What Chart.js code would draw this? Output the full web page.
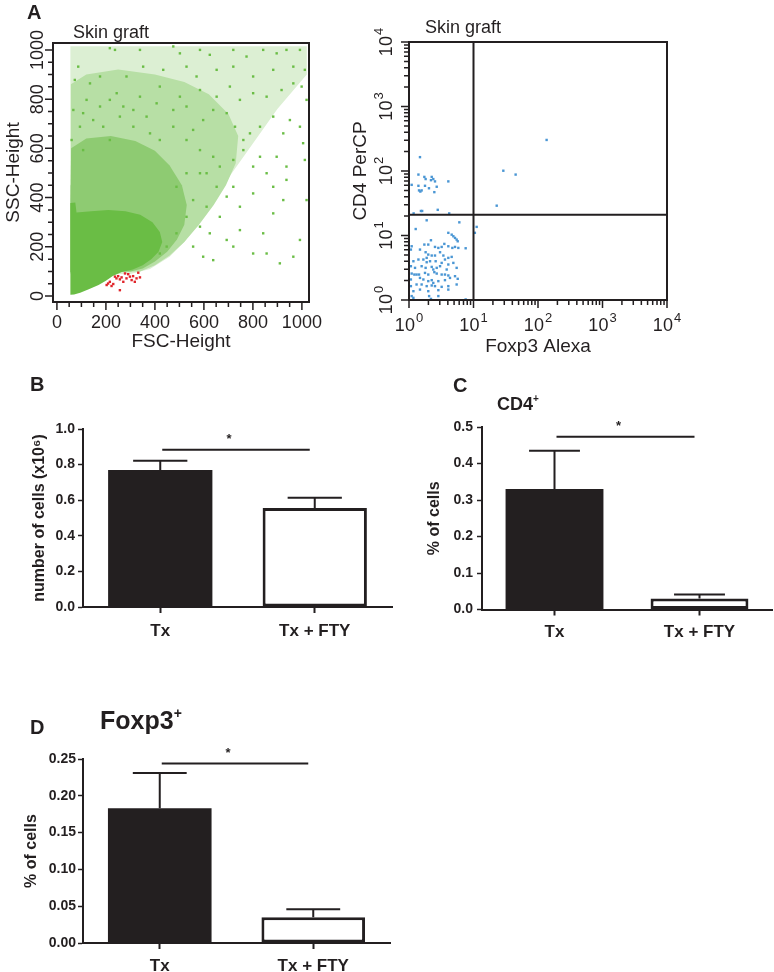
<!DOCTYPE html>
<html lang="en">
<head>
<meta charset="UTF-8" />
<title>Skin graft - Tx vs Tx + FTY</title>
<script src="https://cdn.jsdelivr.net/npm/chart.js@4.4.1/dist/chart.umd.min.js"></script>
<style>
    body { margin: 0; background: #fff; }
    #figure { position: relative; width: 774px; height: 972px; overflow: hidden;
              font-family: "Liberation Sans", Arial, sans-serif; color: #231f20; }
    #figure canvas { position: absolute; }
    .tag { position: absolute; line-height: 1; white-space: nowrap; }
    .letter { font-size: 20px; font-weight: bold; }
    .flow { font-size: 18px; }
    .sup { position: relative; }
</style>
</head>
<body>
<div id="figure">
    <canvas id="fscSsc" width="340" height="360" style="left:0;top:0"></canvas>
    <canvas id="cd4Foxp3" width="434" height="360" style="left:340px;top:0"></canvas>
    <canvas id="cellCount" width="400" height="300" style="left:0;top:360px"></canvas>
    <canvas id="cd4Cells" width="394" height="300" style="left:380px;top:360px"></canvas>
    <canvas id="foxp3Cells" width="400" height="272" style="left:0;top:700px"></canvas>

    <div class="tag letter" style="left:27px;top:2px">A</div>
    <div class="tag flow" style="left:73px;top:23px">Skin graft</div>
    <div class="tag flow" style="left:425px;top:18px">Skin graft</div>
    <div class="tag letter" style="left:30px;top:374px">B</div>
    <div class="tag letter" style="left:453px;top:375px">C</div>
    <div class="tag" style="left:497px;top:395px;font-size:18px;font-weight:bold">CD4<span class="sup" style="font-size:10px;top:-8px">+</span></div>
    <div class="tag letter" style="left:30px;top:717px">D</div>
    <div class="tag" style="left:100px;top:708px;font-size:25px;font-weight:bold">Foxp3<span class="sup" style="font-size:14px;top:-11px">+</span></div>
</div>
<script>
    // bar panels (B, C, D)
    const groups = ["Tx", "Tx + FTY"];
    const cellNumber = [0.77, 0.556];
    const cellNumberSem = [0.052, 0.058];
    const cellNumberStar = 0.884;
    const cd4Percent = [0.33, 0.03];
    const cd4Sem = [0.105, 0.011];
    const cd4Star = 0.473;
    const foxp3Percent = [0.183, 0.035];
    const foxp3Sem = [0.048, 0.011];
    const foxp3Star = 0.244;

    // panel A, left: FSC / SSC
    const fscTicks = [0, 200, 400, 600, 800, 1000];
    const fscLabels = ["0", "200", "400", "600", "800", "1000"];
    // density outlines of the green cloud (FSC, SSC), densest first
    const sscCore = [[55,5],[55,378],[75,380],[80,340],[140,345],[210,350],[280,345],[340,330],[390,300],[420,260],
        [430,220],[415,180],[385,150],[350,125],[310,108],[265,98],[228,82],[200,62],[170,45],[130,28],[95,14],[70,6]];
    const sscDense = [[55,370],[58,600],[120,640],[220,650],[320,630],[400,590],[460,530],[510,450],[530,370],
        [520,290],[490,230],[450,180],[400,140],[350,112],[300,100],[55,98]];
    const sscHalo = [[55,450],[57,860],[120,900],[250,920],[400,900],[520,870],[620,820],[700,740],[740,650],
        [730,540],[690,450],[640,370],[580,290],[520,220],[460,165],[400,125],[340,100],[55,95]];
    const sscOuter = [[55,400],[55,1015],[1020,1015],[1020,900],[900,760],[800,620],[700,480],[600,330],
        [520,220],[460,160],[380,110],[300,90],[55,90]];
    // single events around the cloud
    const sscEvents = [[216,1007],[237,1000],[339,1000],[475,1014],[502,986],[584,1000],[624,980],[720,1000],
        [774,973],[842,1000],[897,986],[937,1000],[992,1000],[1012,919],[965,932],[883,919],[801,892],[720,932],
        [652,919],[570,892],[529,932],[434,919],[352,932],[284,892],[176,892],[135,864],[87,932],[73,878],
        [121,797],[176,770],[244,824],[339,810],[420,851],[502,810],[584,837],[652,810],[706,851],[747,797],
        [801,824],[856,810],[917,837],[965,864],[1019,797],[999,851],[951,715],[924,661],[883,729],[829,688],
        [788,661],[761,634],[727,688],[693,743],[638,756],[597,715],[556,675],[529,770],[475,756],[407,783],
        [366,729],[312,756],[271,770],[216,797],[67,756],[94,688],[60,634],[107,593],[992,688],[1005,621],
        [937,526],[897,566],[856,499],[829,566],[801,526],[761,593],[720,553],[924,390],[883,444],[801,417],
        [720,444],[747,363],[693,404],[883,336],[842,255],[747,268],[693,228],[665,322],[624,255],[597,160],
        [556,201],[638,146],[720,201],[801,173],[856,173],[910,133],[965,160],[992,228],[1019,390],[1012,553],
        [937,472],[652,444],[611,499],[107,743],[148,715],[189,688],[216,634],[257,729],[312,688],[380,661],
        [420,634],[475,688],[529,634],[584,593],[638,566],[665,526],[584,499],[529,499],[488,444],[556,390],
        [611,363],[529,322],[584,282],[488,255],[448,201],[420,173]];
    const lymphEvents = [[203,45],[209,51],[216,58],[223,41],[237,79],[243,72],[250,81],[257,68],[264,76],
        [271,58],[284,72],[291,89],[298,79],[305,65],[311,81],[325,72],[339,76],[332,95],[257,24],[230,49],
        [278,92],[318,58]];

    // panel A, right: Foxp3 / CD4
    const logTicks = [1, 10, 100, 1000, 10000];
    const logExponents = ["0", "1", "2", "3", "4"];
    const quadrant = [10, 21];
    const cd4Events = [[1.48,164],[1.4,88],[1.73,81],[1.81,75],[2.25,81],[2.38,75],[2.53,69],[2.19,72],
        [1.1,61],[1.4,59],[1.77,59],[1.43,50],[1.5,48],[1.57,50],[2.04,54],[2.69,57],[2.47,47],[4.07,69],
        [2.79,25],[1.53,24],[1.6,24],[1.18,22],[4.2,22],[29,101],[45,88],[22.9,29],[136,303],[11.2,13.6],
        [10.5,11],[1.88,17.2],[6.03,16.0],[1.27,12.6],[4.07,11.0],[4.59,10.3],[4.87,9.73],[5.17,9.17],
        [5.48,8.64],[5.69,8.14],[1.10,6.81],[1.07,6.05],[1.48,6.05],[1.73,7.23],[1.99,7.23],[2.19,8.44],
        [2.53,6.65],[2.85,6.42],[3.21,6.65],[3.53,7.41],[4.07,6.81],[4.70,6.42],[5.17,6.65],[5.82,6.42],
        [7.56,6.34],[1.81,5.50],[1.99,5.06],[2.25,4.89],[1.88,4.50],[2.53,4.89],[3.03,5.50],[3.41,4.89],
        [4.07,4.50],[4.59,4.66],[1.17,3.99],[1.40,4.24],[1.67,4.24],[1.88,3.85],[2.12,3.99],[2.59,3.99],
        [3.21,3.76],[3.61,4.24],[4.07,3.55],[4.87,3.76],[1.07,3.34],[1.24,3.15],[1.57,3.34],[1.81,3.15],
        [2.25,3.26],[2.38,2.97],[2.69,3.15],[3.03,3.34],[3.84,2.97],[5.48,3.15],[1.10,2.57],[1.21,2.48],
        [1.31,2.48],[1.43,2.48],[1.77,2.63],[1.99,2.48],[2.47,2.70],[2.69,2.57],[3.21,2.48],[3.61,2.48],
        [4.07,2.40],[5.17,2.34],[1.07,2.08],[1.48,2.20],[1.67,2.08],[1.99,1.96],[2.25,2.03],[2.38,1.84],
        [2.85,1.96],[3.61,2.03],[4.32,2.20],[5.69,2.13],[1.07,1.64],[1.31,1.74],[1.57,1.74],[1.88,1.64],
        [2.25,1.68],[2.53,1.64],[3.21,1.60],[4.07,1.64],[5.48,1.74],[1.17,1.37],[1.48,1.45],[1.99,1.37],
        [2.85,1.42],[4.07,1.45],[1.10,1.15],[1.17,1.08],[2.05,1.15],[2.19,1.04],[2.85,1.15],[7.56,1.02]];

    const ink = "#231f20";
    const font = '"Liberation Sans", Arial, sans-serif';
    Chart.defaults.font.family = font;
    Chart.defaults.color = ink;
    Chart.defaults.animation = false;
    Chart.defaults.events = [];
    Chart.defaults.plugins.legend.display = false;
    Chart.defaults.plugins.tooltip.enabled = false;

    const fscMinor = [];
    for (let v = 0; v <= 1000; v += 50) fscMinor.push(v);
    const logMinor = [];
    for (const d of [1, 10, 100, 1000]) for (let k = 2; k < 10; k++) logMinor.push(k * d);

    function toXY(list) {
        return list.map(p => ({ x: p[0], y: p[1] }));
    }

    function events(list, color) {
        return { type: "scatter", data: toXY(list), pointStyle: "rect", pointRadius: 1.7,
                 backgroundColor: color, borderWidth: 0 };
    }

    function outline(list, color) {
        return { type: "line", data: toXY(list), fill: "shape", backgroundColor: color,
                 borderColor: "rgba(0,0,0,0)", borderWidth: 0, pointRadius: 0, tension: 0 };
    }

    function flowAxis(type, min, max, text, pad, fit) {
        return { type, min, max, afterFit: fit, grid: { display: false }, border: { display: false },
                 ticks: { display: false },
                 title: { display: true, text, font: { size: 19 }, padding: pad } };
    }

    // tick label: plain number, or "10" with a raised exponent
    function drawLabel(ctx, base, exp, x, y, rot) {
        ctx.save();
        ctx.translate(x, y);
        ctx.rotate(rot);
        ctx.textBaseline = "middle";
        ctx.textAlign = "left";
        ctx.font = "18px " + font;
        const bw = ctx.measureText(base).width;
        ctx.font = "13px " + font;
        const ew = exp ? ctx.measureText(exp).width + 1 : 0;
        const x0 = -(bw + ew) / 2;
        ctx.font = "18px " + font;
        ctx.fillText(base, x0, 0);
        if (exp) {
            ctx.font = "13px " + font;
            ctx.fillText(exp, x0 + bw + 1, -8);
        }
        ctx.restore();
    }

    const flowFrame = {
        id: "flowFrame",
        afterDraw(chart, args, o) {
            const { ctx, chartArea: a } = chart;
            const xs = chart.scales.x, ys = chart.scales.y;
            ctx.save();
            ctx.strokeStyle = ink;
            ctx.fillStyle = ink;
            ctx.lineWidth = 2;
            ctx.strokeRect(a.left, a.top, a.right - a.left, a.bottom - a.top);
            ctx.lineWidth = 1.5;
            ctx.beginPath();
            o.minor.forEach(v => {
                const px = xs.getPixelForValue(v), py = ys.getPixelForValue(v);
                ctx.moveTo(px, a.bottom); ctx.lineTo(px, a.bottom + 5);
                ctx.moveTo(a.left, py); ctx.lineTo(a.left - 5, py);
            });
            o.major.forEach(v => {
                const px = xs.getPixelForValue(v), py = ys.getPixelForValue(v);
                ctx.moveTo(px, a.bottom); ctx.lineTo(px, a.bottom + 8);
                ctx.moveTo(a.left, py); ctx.lineTo(a.left - 8, py);
            });
            ctx.stroke();
            if (o.gate) {
                const gx = xs.getPixelForValue(o.gate[0]), gy = ys.getPixelForValue(o.gate[1]);
                ctx.lineWidth = 2;
                ctx.beginPath();
                ctx.moveTo(gx, a.top); ctx.lineTo(gx, a.bottom);
                ctx.moveTo(a.left, gy); ctx.lineTo(a.right, gy);
                ctx.stroke();
            }
            o.major.forEach((v, i) => {
                drawLabel(ctx, o.base[i], o.exp ? o.exp[i] : "", xs.getPixelForValue(v), o.xLabelY, 0);
                drawLabel(ctx, o.base[i], o.exp ? o.exp[i] : "", o.yLabelX, ys.getPixelForValue(v), -Math.PI / 2);
            });
            ctx.restore();
        }
    };

    new Chart(document.getElementById("fscSsc"), {
        type: "scatter",
        data: {
            datasets: [
                events(lymphEvents, "#e0262b"),
                events(sscEvents, "#6abd45"),
                outline(sscCore, "#6abd45"),
                outline(sscDense, "#8ecb72"),
                outline(sscHalo, "#b7dfa5"),
                outline(sscOuter, "#dcefd3")
            ]
        },
        options: {
            responsive: false,
            layout: { padding: { top: 43, right: 31, left: 0, bottom: 0 } },
            scales: {
                x: flowAxis("linear", -16, 1029, "FSC-Height", { bottom: 7 }, s => { s.height = 58; }),
                y: flowAxis("linear", -24, 1028, "SSC-Height", { top: 2 }, s => { s.width = 53; })
            },
            plugins: {
                flowFrame: { major: fscTicks, minor: fscMinor, base: fscLabels, xLabelY: 323, yLabelX: 38 }
            }
        },
        plugins: [flowFrame]
    });

    new Chart(document.getElementById("cd4Foxp3"), {
        type: "scatter",
        data: { datasets: [events(cd4Events, "#4a96d4")] },
        options: {
            responsive: false,
            layout: { padding: { top: 42, right: 107, left: 0, bottom: 0 } },
            scales: {
                x: flowAxis("logarithmic", 1, 10000, "Foxp3 Alexa", { bottom: 2 }, s => { s.height = 60; }),
                y: flowAxis("logarithmic", 1, 10000, "CD4 PerCP", { top: 9 }, s => { s.width = 69; })
            },
            plugins: {
                flowFrame: { major: logTicks, minor: logMinor, base: logTicks.map(() => "10"), exp: logExponents,
                             gate: quadrant, xLabelY: 326, yLabelX: 47 }
            }
        },
        plugins: [flowFrame]
    });

    // SEM whiskers and the significance line
    const semBars = {
        id: "semBars",
        afterDatasetsDraw(chart, args, o) {
            const { ctx } = chart;
            const y = chart.scales.y;
            const bars = chart.getDatasetMeta(0).data;
            const vals = chart.data.datasets[0].data;
            ctx.save();
            ctx.strokeStyle = ink;
            ctx.lineWidth = 2;
            ctx.beginPath();
            bars.forEach((bar, i) => {
                const top = y.getPixelForValue(vals[i] + o.sem[i]);
                const half = bar.width * 0.26;
                ctx.moveTo(bar.x, bar.y); ctx.lineTo(bar.x, top);
                ctx.moveTo(bar.x - half, top); ctx.lineTo(bar.x + half, top);
            });
            const ys = y.getPixelForValue(o.star);
            const x0 = bars[0].x + 2, x1 = bars[1].x - 5;
            ctx.moveTo(x0, ys); ctx.lineTo(x1, ys);
            ctx.stroke();
            ctx.fillStyle = ink;
            ctx.font = "bold 13px " + font;
            ctx.textAlign = "center";
            ctx.textBaseline = "middle";
            ctx.fillText("*", (x0 + x1) / 2 - 7, ys - 10);
            ctx.restore();
        }
    };

    function barChart(id, values, sem, star, yMax, step, digits, yTitle, box) {
        return new Chart(document.getElementById(id), {
            type: "bar",
            data: {
                labels: groups,
                datasets: [{
                    data: values,
                    backgroundColor: [ink, "#ffffff"],
                    borderColor: ink,
                    borderWidth: [0, 3],
                    borderSkipped: false,
                    categoryPercentage: 1,
                    barPercentage: 0.675
                }]
            },
            options: {
                responsive: false,
                layout: { padding: { top: box.top, right: box.right, left: 0, bottom: 0 } },
                scales: {
                    x: {
                        afterFit: s => { s.height = box.xh; },
                        border: { color: ink, width: 2 },
                        grid: { drawOnChartArea: false, offset: false, tickLength: 6, tickWidth: 2, tickColor: ink },
                        ticks: { font: { size: 17, weight: "bold" }, padding: box.xpad }
                    },
                    y: {
                        min: 0,
                        max: yMax,
                        afterFit: s => { s.width = box.yw; },
                        border: { color: ink, width: 2 },
                        grid: { drawOnChartArea: false, tickLength: 5, tickWidth: 1.5, tickColor: ink },
                        ticks: { stepSize: step, font: { size: 14, weight: "bold" }, padding: box.ypad,
                                 callback: v => v.toFixed(digits) },
                        title: { display: true, text: yTitle, font: { size: 16, weight: "bold" },
                                 padding: { top: box.tpad } }
                    }
                },
                plugins: { semBars: { sem, star } }
            },
            plugins: [semBars]
        });
    }

    barChart("cellCount", cellNumber, cellNumberSem, cellNumberStar, 1.0, 0.2, 1, "number of cells (x10\u2076)",
             { top: 69, right: 8, xh: 53, yw: 83, xpad: 8, ypad: 3, tpad: 30 });
    barChart("cd4Cells", cd4Percent, cd4Sem, cd4Star, 0.5, 0.1, 1, "% of cells",
             { top: 67, right: 2, xh: 50.5, yw: 102, xpad: 7, ypad: 4, tpad: 45 });
    barChart("foxp3Cells", foxp3Percent, foxp3Sem, foxp3Star, 0.25, 0.05, 2, "% of cells",
             { top: 59, right: 10, xh: 29, yw: 83, xpad: 7, ypad: 2, tpad: 22 });
</script>
</body>
</html>
